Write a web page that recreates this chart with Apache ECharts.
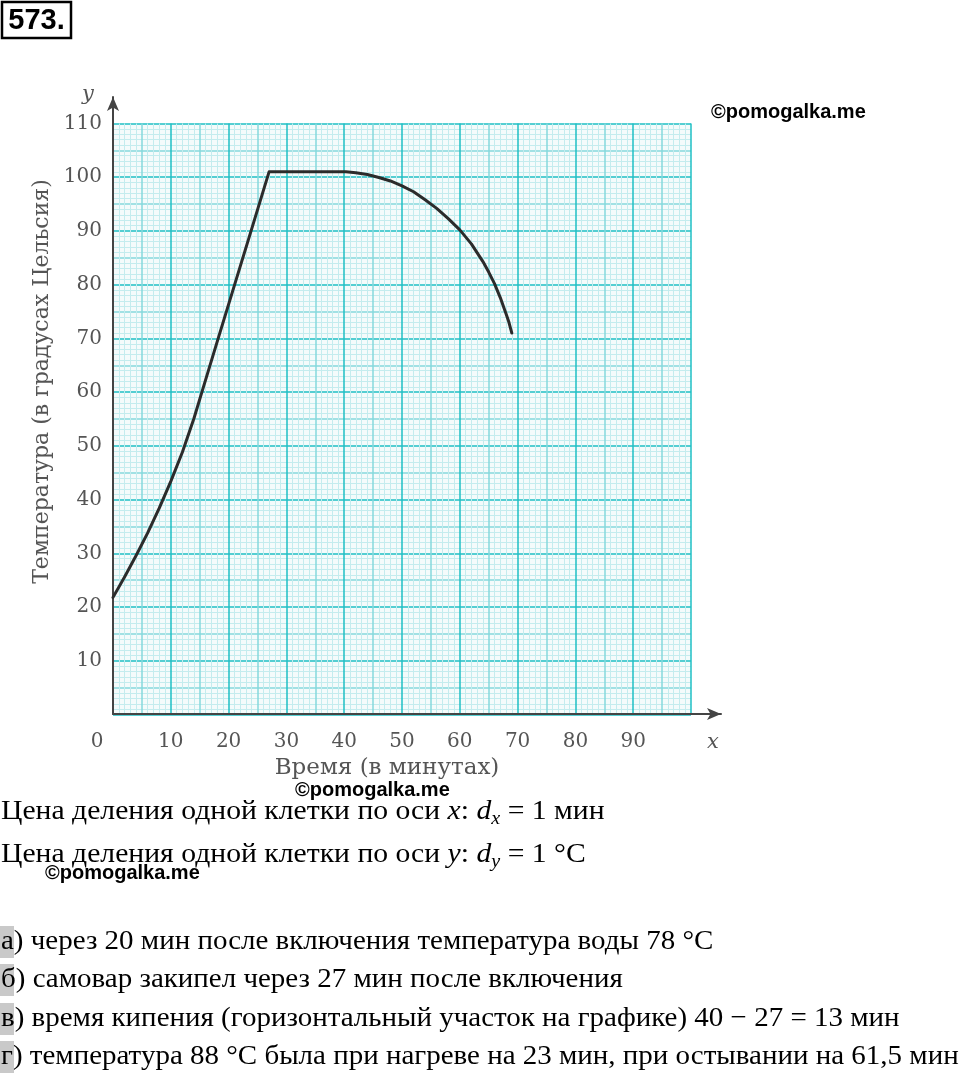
<!DOCTYPE html>
<html><head><meta charset="utf-8">
<script src="https://cdn.jsdelivr.net/npm/echarts@6/dist/echarts.min.js"></script>
<style>html,body{margin:0;padding:0;background:#fff}#c{width:960px;height:1077px}</style>
</head><body><div id="c"></div><script>
// --- data ---
const timeMin = [0, 2, 4, 6, 8, 10, 12, 14, 15.6, 18.2, 20.7, 23.6, 27,
                 40.3, 42, 44, 46, 48, 50, 52, 54, 56, 58, 60, 62, 64, 65, 66, 67, 68, 68.5, 69];
const tempC   = [21.8, 25.6, 29.6, 33.8, 38.4, 43.4, 48.8, 55.1, 60.8, 70, 78.8, 89, 101,
                 101, 100.85, 100.5, 99.95, 99.3, 98.4, 97.3, 95.8, 94.2, 92.3, 90.2, 87.6, 84.3, 82.35, 80.2, 77.6, 74.6, 73, 71];
const xTickLabels = ['0', '10', '20', '30', '40', '50', '60', '70', '80', '90'];
const yTickLabels = ['10', '20', '30', '40', '50', '60', '70', '80', '90', '100', '110'];
const xTitle = 'Время (в минутах)';
const yTitle = 'Температура (в градусах Цельсия)';
const problemNo = '573.';
const watermark = '©pomogalka.me';
const answerLines = [
  'а) через 20 мин после включения температура воды 78 °C',
  'б) самовар закипел через 27 мин после включения',
  'в) время кипения (горизонтальный участок на графике) 40 − 27 = 13 мин',
  'г) температура 88 °C была при нагреве на 23 мин, при остывании на 61,5 мин'
];

const chart = echarts.init(document.getElementById('c'), null, {renderer: 'canvas'});
const points = timeMin.map((t, i) => [t, tempC[i]]);
const labelFont = 'DejaVu Serif';
const serif = 'Liberation Serif';

const richMath = {
  t: {fontFamily: serif, fontSize: 28, fill: '#000', lineHeight: 32},
  m: {fontFamily: serif, fontStyle: 'italic', fontSize: 28, lineHeight: 32},
  s: {fontFamily: serif, fontStyle: 'italic', fontSize: 19, lineHeight: 8, verticalAlign: 'bottom'}
};
const graphic = [
  {type: 'rect', shape: {x: 2, y: 2, width: 69, height: 36}, style: {fill: 'none', stroke: '#000', lineWidth: 2.5}},
  {type: 'text', x: 36.5, y: 21, style: {text: problemNo, font: 'bold 29px "Liberation Sans"', fill: '#000', align: 'center', verticalAlign: 'middle'}},
  {type: 'text', x: 711, y: 112, style: {text: watermark, font: 'bold 20px "Liberation Sans"', fill: '#000', align: 'left', verticalAlign: 'middle'}},
  {type: 'text', x: 295, y: 790, style: {text: watermark, font: 'bold 20px "Liberation Sans"', fill: '#000', align: 'left', verticalAlign: 'middle'}},
  {type: 'text', x: 45, y: 873, style: {text: watermark, font: 'bold 20px "Liberation Sans"', fill: '#000', align: 'left', verticalAlign: 'middle'}},
  {type: 'text', x: 1, y: 812, scaleX: 1.06, style: {
    text: '{t|Цена деления одной клетки по оси }{m|x}{t|: }{m|d}{s|x}{t| = 1 мин}',
    verticalAlign: 'middle', align: 'left', rich: richMath}},
  {type: 'text', x: 1, y: 855, scaleX: 1.06, style: {
    text: '{t|Цена деления одной клетки по оси }{m|y}{t|: }{m|d}{s|y}{t| = 1 °C}',
    verticalAlign: 'middle', align: 'left', rich: richMath}}
];
const lineY = [942, 980, 1019, 1057];
answerLines.forEach((txt, i) => {
  graphic.push({type: 'rect', shape: {x: 0, y: lineY[i] - 16, width: 14, height: 32}, style: {fill: '#c9c9c9'}});
  graphic.push({type: 'text', x: 1, y: lineY[i], scaleX: 1.035, style: {text: txt, font: '28px "Liberation Serif"', fill: '#000', align: 'left', verticalAlign: 'middle'}});
});

const option = {
  animation: false,
  backgroundColor: '#ffffff',
  grid: [
    {left: 113, top: 123.5, width: 578, height: 591, show: true, backgroundColor: '#f4fbfb', borderWidth: 0},
    {left: 113, top: 97, right: 239, bottom: 363, show: false}
  ],
  xAxis: [
    {type: 'value', gridIndex: 0, min: 0, max: 100, interval: 5,
     axisLine: {show: false}, axisTick: {show: false},
     axisLabel: {margin: 17, fontFamily: labelFont, fontSize: 20, color: '#555',
       formatter: v => xTickLabels.includes(String(v)) ? (v === 0 ? '{o|0}' : String(v)) : '',
       rich: {o: {fontFamily: labelFont, fontSize: 20, color: '#555', padding: [0, 32, 0, 0]}}},
     splitLine: {show: true, lineStyle: {color: ['#1fbfc4', '#86d9dc'], width: 1.5}},
     minorTick: {show: false, splitNumber: 5},
     minorSplitLine: {show: true, lineStyle: {color: '#c4ecee', width: 1}},
     name: xTitle, nameLocation: 'middle', nameGap: 42,
     nameTextStyle: {fontFamily: labelFont, fontSize: 23, color: '#555', padding: [0, 30, 0, 0]}},
    {type: 'value', gridIndex: 1, min: 0, max: 10,
     axisLine: {show: true, symbol: ['none', 'arrow'], symbolSize: [9, 14], lineStyle: {color: '#444', width: 2}},
     axisTick: {show: false}, axisLabel: {show: false}, splitLine: {show: false},
     name: 'x', nameLocation: 'end', nameGap: -8,
     nameTextStyle: {fontFamily: labelFont, fontStyle: 'italic', fontSize: 21, color: '#555', align: 'center', verticalAlign: 'top', padding: [18, 0, 0, 0]}}
  ],
  yAxis: [
    {type: 'value', gridIndex: 0, min: 0, max: 110, interval: 5,
     axisLine: {show: false}, axisTick: {show: false},
     axisLabel: {margin: 11, fontFamily: labelFont, fontSize: 20, color: '#555',
       formatter: v => yTickLabels.includes(String(v)) ? String(v) : ''},
     splitLine: {show: true, lineStyle: {color: ['#1fbfc4', '#86d9dc'], width: 1.5}},
     minorTick: {show: false, splitNumber: 5},
     minorSplitLine: {show: true, lineStyle: {color: '#c4ecee', width: 1}},
     name: yTitle, nameLocation: 'middle', nameGap: 59,
     nameTextStyle: {fontFamily: labelFont, fontSize: 22, color: '#555', padding: [0, 0, 0, 75]}},
    {type: 'value', gridIndex: 1, min: 0, max: 10,
     axisLine: {show: true, symbol: ['none', 'arrow'], symbolSize: [9, 14], lineStyle: {color: '#444', width: 2}},
     axisTick: {show: false}, axisLabel: {show: false}, splitLine: {show: false},
     name: 'y', nameLocation: 'end', nameGap: 2,
     nameTextStyle: {fontFamily: labelFont, fontStyle: 'italic', fontSize: 21, color: '#555', align: 'center', verticalAlign: 'middle', padding: [0, 50, 0, 0]}}
  ],
  series: [{
    type: 'line', xAxisIndex: 0, yAxisIndex: 0, data: points,
    showSymbol: false, smooth: false, lineStyle: {color: '#2b2b2b', width: 3, cap: 'round', join: 'round'}
  }],
  graphic: graphic
};
chart.setOption(option);
</script></body></html>
